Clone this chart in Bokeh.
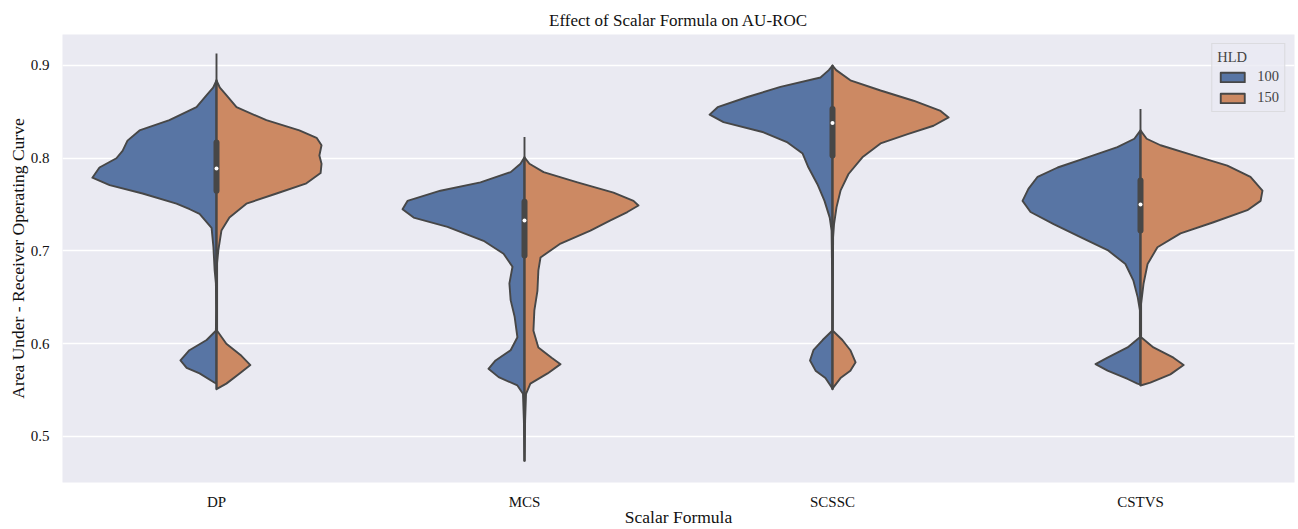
from bokeh.plotting import figure
from bokeh.models import Range1d, FixedTicker, Legend, LegendItem, ColumnDataSource
from bokeh.embed import file_html
from bokeh.resources import INLINE

categories = ["DP", "MCS", "SCSSC", "CSTVS"]
hue_levels = ["100", "150"]

# Violin half profiles: AU-ROC level and half-width (fraction of category slot)
dp_y_100 = [0.884, 0.876, 0.868, 0.855, 0.841, 0.830, 0.819, 0.808, 0.800, 0.790, 0.779, 0.771, 0.762, 0.751, 0.745, 0.740, 0.725, 0.704, 0.679, 0.665, 0.636, 0.614, 0.604, 0.593, 0.582, 0.574, 0.568, 0.558, 0.557]
dp_w_100 = [0.000, 0.011, 0.032, 0.065, 0.153, 0.250, 0.289, 0.305, 0.325, 0.380, 0.403, 0.347, 0.240, 0.130, 0.087, 0.055, 0.016, 0.010, 0.006, 0.002, 0.001, 0.002, 0.032, 0.088, 0.117, 0.097, 0.055, 0.006, 0.000]
dp_y_150 = [0.884, 0.876, 0.868, 0.855, 0.841, 0.830, 0.822, 0.814, 0.803, 0.794, 0.784, 0.773, 0.762, 0.751, 0.736, 0.722, 0.701, 0.687, 0.614, 0.600, 0.587, 0.577, 0.568, 0.557, 0.551]
dp_w_150 = [0.000, 0.011, 0.032, 0.065, 0.162, 0.269, 0.325, 0.341, 0.334, 0.341, 0.338, 0.292, 0.195, 0.097, 0.042, 0.016, 0.006, 0.002, 0.002, 0.032, 0.081, 0.110, 0.075, 0.032, 0.000]

mcs_y_100 = [0.801, 0.794, 0.785, 0.774, 0.765, 0.754, 0.745, 0.736, 0.726, 0.711, 0.697, 0.683, 0.665, 0.647, 0.629, 0.607, 0.593, 0.582, 0.573, 0.564, 0.555, 0.546, 0.517, 0.492, 0.474]
mcs_w_100 = [0.000, 0.013, 0.045, 0.143, 0.273, 0.380, 0.396, 0.360, 0.250, 0.133, 0.068, 0.039, 0.049, 0.045, 0.032, 0.023, 0.045, 0.094, 0.117, 0.084, 0.023, 0.005, 0.002, 0.001, 0.000]
mcs_y_150 = [0.801, 0.794, 0.785, 0.774, 0.763, 0.754, 0.749, 0.742, 0.733, 0.722, 0.708, 0.693, 0.679, 0.657, 0.636, 0.614, 0.596, 0.585, 0.578, 0.568, 0.557, 0.546, 0.517, 0.492, 0.474]
mcs_w_150 = [0.000, 0.016, 0.062, 0.172, 0.289, 0.354, 0.370, 0.334, 0.279, 0.214, 0.117, 0.052, 0.045, 0.042, 0.032, 0.029, 0.045, 0.088, 0.117, 0.075, 0.019, 0.005, 0.002, 0.001, 0.000]

scssc_y_100 = [0.900, 0.895, 0.887, 0.877, 0.866, 0.855, 0.847, 0.839, 0.828, 0.817, 0.805, 0.790, 0.772, 0.754, 0.736, 0.722, 0.668, 0.614, 0.604, 0.593, 0.582, 0.571, 0.563, 0.553, 0.551]
scssc_w_100 = [0.000, 0.012, 0.039, 0.169, 0.276, 0.373, 0.399, 0.354, 0.224, 0.146, 0.097, 0.078, 0.049, 0.026, 0.009, 0.003, 0.001, 0.001, 0.032, 0.062, 0.073, 0.055, 0.023, 0.003, 0.000]
scssc_y_150 = [0.900, 0.895, 0.884, 0.873, 0.862, 0.851, 0.844, 0.835, 0.826, 0.816, 0.801, 0.783, 0.765, 0.747, 0.729, 0.715, 0.614, 0.604, 0.593, 0.580, 0.571, 0.563, 0.553, 0.551]
scssc_w_150 = [0.000, 0.012, 0.058, 0.156, 0.263, 0.351, 0.377, 0.328, 0.244, 0.156, 0.097, 0.052, 0.026, 0.013, 0.005, 0.002, 0.001, 0.032, 0.058, 0.075, 0.058, 0.026, 0.003, 0.000]

cstvs_y_100 = [0.830, 0.821, 0.812, 0.801, 0.790, 0.780, 0.767, 0.754, 0.742, 0.729, 0.715, 0.701, 0.686, 0.668, 0.650, 0.636, 0.607, 0.596, 0.585, 0.578, 0.571, 0.562, 0.557, 0.556]
cstvs_w_100 = [0.000, 0.020, 0.075, 0.172, 0.269, 0.334, 0.364, 0.383, 0.357, 0.282, 0.195, 0.107, 0.049, 0.023, 0.009, 0.002, 0.002, 0.042, 0.107, 0.146, 0.107, 0.042, 0.010, 0.000]
cstvs_y_150 = [0.830, 0.821, 0.814, 0.803, 0.792, 0.780, 0.765, 0.754, 0.744, 0.731, 0.719, 0.704, 0.686, 0.665, 0.643, 0.607, 0.596, 0.585, 0.577, 0.567, 0.558, 0.555]
cstvs_w_150 = [0.000, 0.020, 0.065, 0.172, 0.282, 0.357, 0.396, 0.390, 0.347, 0.237, 0.130, 0.055, 0.023, 0.010, 0.002, 0.002, 0.042, 0.107, 0.140, 0.097, 0.032, 0.000]

# Inner box statistics (both hue levels combined)
box_q1 = [0.765, 0.695, 0.803, 0.722]
box_q3 = [0.817, 0.753, 0.853, 0.776]
box_median = [0.789, 0.733, 0.838, 0.750]
whisker_lo = [0.551, 0.473, 0.551, 0.555]
whisker_hi = [0.913, 0.823, 0.900, 0.853]

profiles_100 = [(dp_y_100, dp_w_100), (mcs_y_100, mcs_w_100), (scssc_y_100, scssc_w_100), (cstvs_y_100, cstvs_w_100)]
profiles_150 = [(dp_y_150, dp_w_150), (mcs_y_150, mcs_w_150), (scssc_y_150, scssc_w_150), (cstvs_y_150, cstvs_w_150)]

BLUE = "#5875a4"
ORANGE = "#cc8963"
EDGE = "#474747"
BG = "#eaeaf2"
FONT = "Liberation Serif"

p = figure(width=1297, height=529, output_backend="svg", toolbar_location=None,
           x_range=Range1d(-0.5, 3.5), y_range=Range1d(0.4504, 0.9334),
           min_border_left=62, min_border_right=3, min_border_top=34, min_border_bottom=0,
           background_fill_color=BG, border_fill_color="white")
p.outline_line_color = None

p.title.text = "Effect of Scalar Formula on AU-ROC"
p.title.align = "center"
p.title.text_font = FONT
p.title.text_font_size = "17px"
p.title.text_font_style = "normal"
p.title.text_color = "#111111"
p.title.standoff = 10

def build(profiles, side):
    xs, ys = [], []
    for i, (yv, wv) in enumerate(profiles):
        xs.append([i + side * w for w in wv])
        ys.append(list(yv))
    return ColumnDataSource(dict(xs=xs, ys=ys))

r100 = p.patches("xs", "ys", source=build(profiles_100, -1), fill_color=BLUE,
                 line_color=EDGE, line_width=1.9, line_join="round")
r150 = p.patches("xs", "ys", source=build(profiles_150, 1), fill_color=ORANGE,
                 line_color=EDGE, line_width=1.9, line_join="round")

xi = list(range(len(categories)))
p.segment(x0=xi, y0=whisker_lo, x1=xi, y1=whisker_hi, line_color=EDGE, line_width=1.9)
p.segment(x0=xi, y0=box_q1, x1=xi, y1=box_q3, line_color=EDGE, line_width=6, line_cap="round")
p.scatter(x=xi, y=box_median, size=4, fill_color="white", line_color=None)

# axes
p.xaxis.ticker = FixedTicker(ticks=xi)
p.xaxis.major_label_overrides = {i: c for i, c in enumerate(categories)}
p.yaxis.ticker = FixedTicker(ticks=[0.5, 0.6, 0.7, 0.8, 0.9])
for ax in (p.xaxis[0], p.yaxis[0]):
    ax.axis_line_color = None
    ax.major_tick_line_color = None
    ax.minor_tick_line_color = None
    ax.major_tick_in = 0
    ax.major_tick_out = 0
    ax.major_label_text_font = FONT
    ax.major_label_text_font_size = "15px"
    ax.major_label_text_color = "#111111"
    ax.axis_label_text_font = FONT
    ax.axis_label_text_font_size = "17.5px"
    ax.axis_label_text_font_style = "normal"
    ax.axis_label_text_color = "#111111"
p.xaxis.axis_label = "Scalar Formula"
p.yaxis.axis_label = "Area Under - Receiver Operating Curve"
p.xaxis.major_label_standoff = 11
p.xaxis.axis_label_standoff = -6
p.yaxis.major_label_standoff = 13
p.yaxis.axis_label_standoff = 0

p.xgrid.grid_line_color = None
p.ygrid.grid_line_color = "white"
p.ygrid.grid_line_width = 1.3

legend = Legend(items=[LegendItem(label=hue_levels[0], renderers=[r100]),
                       LegendItem(label=hue_levels[1], renderers=[r150])],
                location="top_right", title="HLD")
legend.title_text_font = FONT
legend.title_text_font_size = "14.5px"
legend.title_text_font_style = "normal"
legend.title_standoff = 2
legend.label_text_font = FONT
legend.label_text_font_size = "14.5px"
legend.glyph_width = 30
legend.glyph_height = 12
legend.background_fill_color = BG
legend.background_fill_alpha = 0.8
legend.border_line_color = "#cccccc"
legend.margin = 9
legend.padding = 5
legend.spacing = 4
legend.label_standoff = 10
p.add_layout(legend)

open("out.html", "w").write(file_html(p, INLINE))
